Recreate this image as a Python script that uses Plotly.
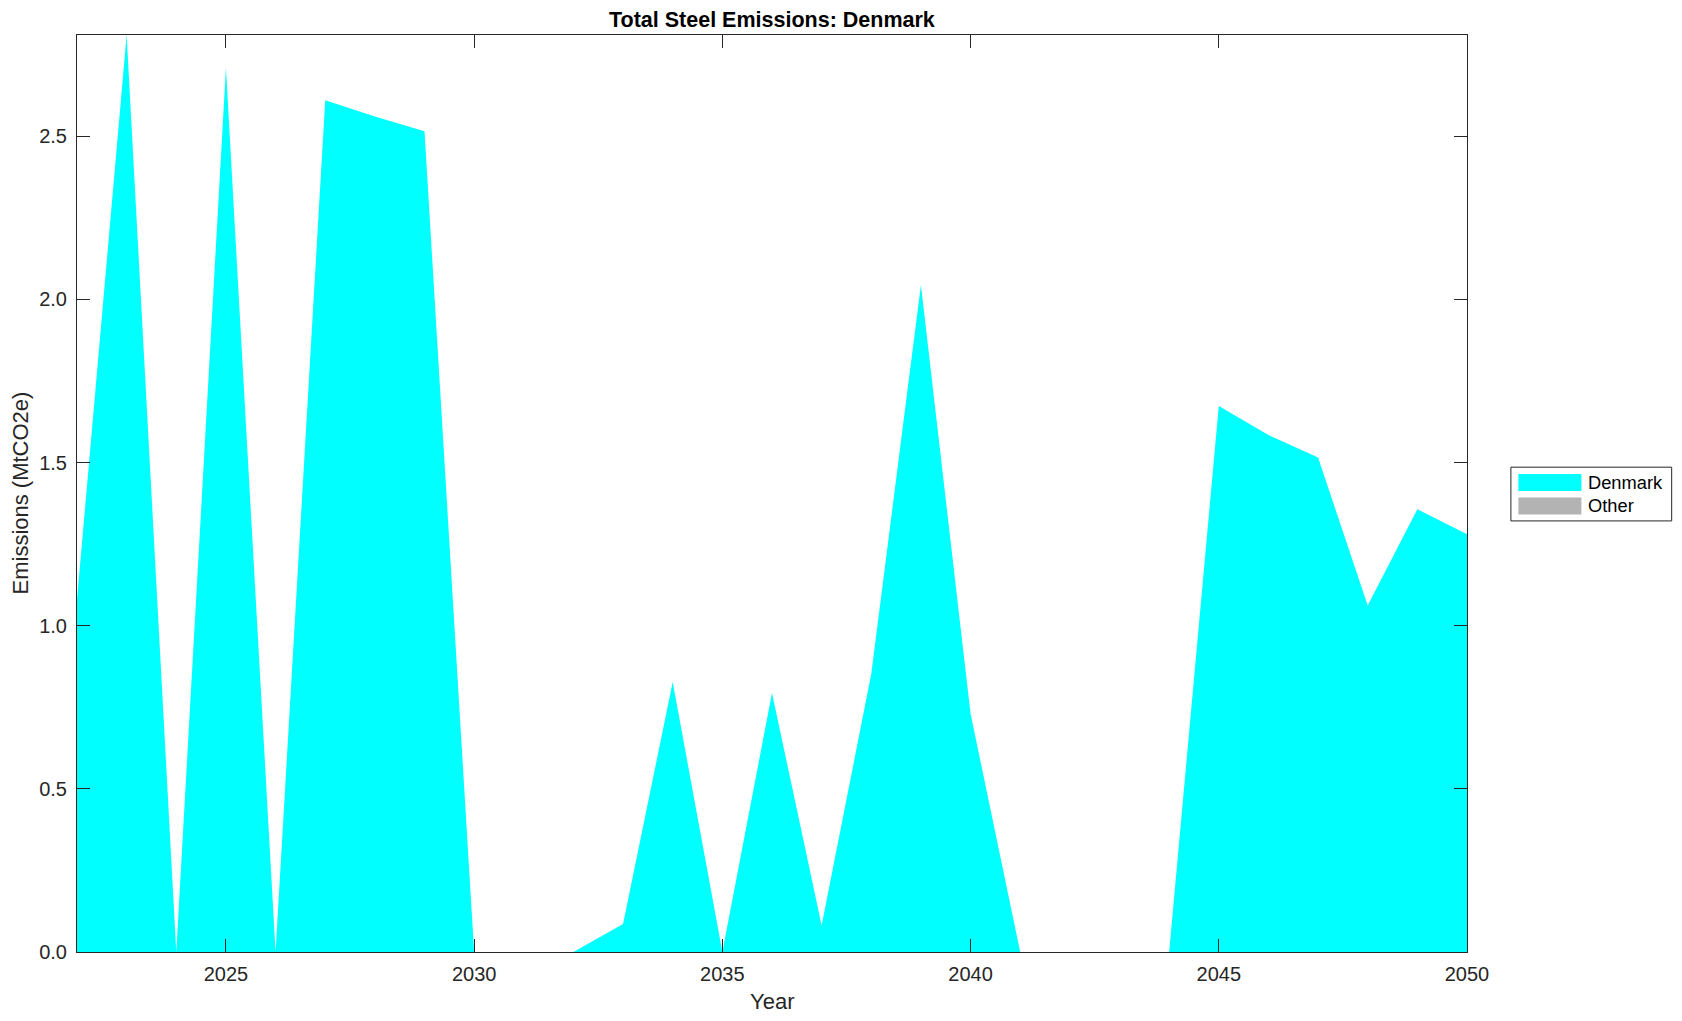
import plotly.graph_objects as go

years = list(range(2022, 2051))
denmark = [1.08, 2.81, 0.0, 2.71, 0.0, 2.61, 2.56, 2.515, 0.0, 0.0,
           0.0, 0.086, 0.827, 0.0, 0.794, 0.081, 0.853, 2.044, 0.730, 0.0,
           0.0, 0.0, 0.0, 1.673, 1.584, 1.515, 1.062, 1.357, 1.280]
other = [0.0] * len(years)
series_names = ["Denmark", "Other"]
series_colors = ["#00FFFF", "#B3B3B3"]
x_ticks = [2025, 2030, 2035, 2040, 2045, 2050]
y_ticks = [0.0, 0.5, 1.0, 1.5, 2.0, 2.5]

W, H = 1682, 1021
OFF = 8  # page body margin
L, R, T, B = 76.5, 1466.6, 35.4, 951.8
FONT = "Liberation Sans, Arial, Helvetica, sans-serif"
AX = "#262626"

def px(x):
    return (x - L) / (R - L)

def py(y):
    return (B - y) / (B - T)

fig = go.Figure()
for name, vals, col in zip(series_names, [denmark, other], series_colors):
    fig.add_trace(go.Scatter(x=years, y=vals, name=name, stackgroup="one",
                             mode="lines", line=dict(width=0, color=col),
                             fillcolor=col, showlegend=False))

ymax = max(d + o for d, o in zip(denmark, other))

fig.update_layout(
    width=W, height=H,
    margin=dict(l=L - OFF, r=W - R + OFF, t=T - OFF, b=H - B + OFF, pad=0),
    paper_bgcolor="white", plot_bgcolor="white",
    font=dict(family=FONT, color=AX),
    showlegend=False,
    xaxis=dict(range=[years[0], years[-1]], tickvals=x_ticks,
               ticks="inside", ticklen=13, tickcolor=AX, tickwidth=1,
               showline=True, linecolor=AX, linewidth=1, mirror="ticks",
               showgrid=False, zeroline=False,
               tickfont=dict(size=20, color=AX, family=FONT),
               ticklabelstandoff=4),
    yaxis=dict(range=[0, ymax], tickvals=y_ticks, tickformat=".1f",
               ticks="inside", ticklen=13, tickcolor=AX, tickwidth=1,
               showline=True, linecolor=AX, linewidth=1, mirror="ticks",
               showgrid=False, zeroline=False,
               tickfont=dict(size=20, color=AX, family=FONT),
               ticklabelstandoff=5),
)

annotations = [
    dict(text="<b>Total Steel Emissions: Denmark</b>", xref="paper", yref="paper",
         x=0.5, y=py(20.5), xanchor="center", yanchor="middle", showarrow=False,
         font=dict(size=21.5, color="black", family=FONT)),
    dict(text="Year", xref="paper", yref="paper", x=0.5, y=py(1001),
         xanchor="center", yanchor="middle", showarrow=False,
         font=dict(size=22, color=AX, family=FONT)),
    dict(text="Emissions (MtCO2e)", xref="paper", yref="paper", x=px(19.5), y=0.5,
         xanchor="center", yanchor="middle", textangle=-90, showarrow=False,
         font=dict(size=22, color=AX, family=FONT)),
]

shapes = [
    dict(type="rect", xref="paper", yref="paper", x0=px(1510.5), x1=px(1671.3),
         y0=py(521), y1=py(467.3), line=dict(color=AX, width=1), fillcolor="white"),
]
row_y = [482.7, 506.0]
for name, col, cy in zip(series_names, series_colors, row_y):
    shapes.append(dict(type="rect", xref="paper", yref="paper",
                       x0=px(1518), x1=px(1581), y0=py(cy + 8.5), y1=py(cy - 8.5),
                       line=dict(width=0), fillcolor=col))
    annotations.append(dict(text=name, xref="paper", yref="paper", x=px(1586),
                            y=py(cy), xanchor="left", yanchor="middle", showarrow=False,
                            font=dict(size=18.3, color="black", family=FONT)))

fig.update_layout(annotations=annotations, shapes=shapes)
fig.write_html("out.html")
